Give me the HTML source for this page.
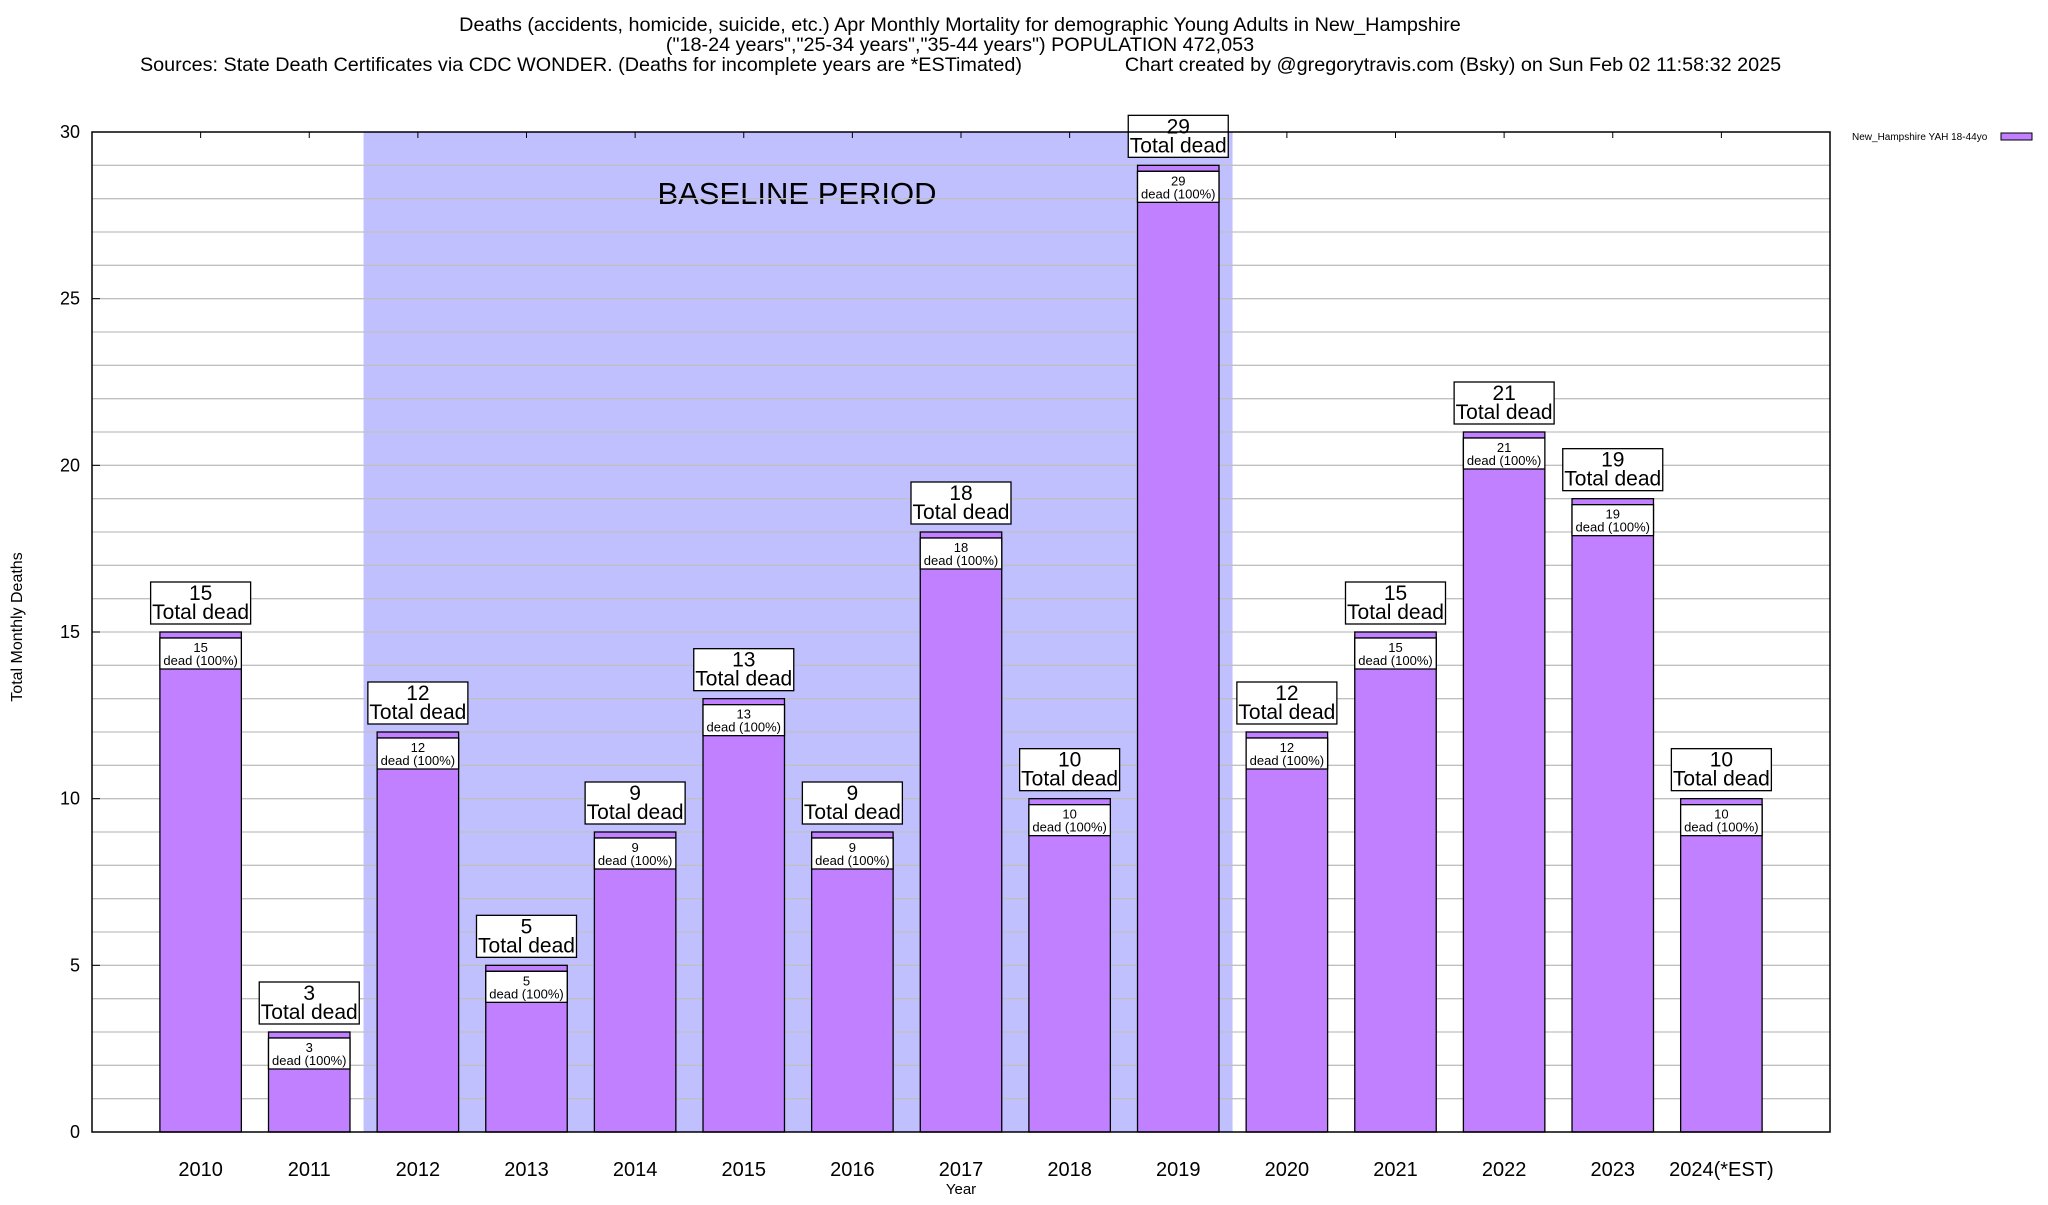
<!DOCTYPE html>
<html><head><meta charset="utf-8"><style>
body{margin:0;background:#fff;font-family:"Liberation Sans",sans-serif}
</style></head><body>
<svg id="chart" width="2048" height="1200" xmlns="http://www.w3.org/2000/svg" font-family="Liberation Sans, sans-serif">
<g font-size="19.8" text-anchor="middle">
<text x="960" y="31">Deaths (accidents, homicide, suicide, etc.) Apr Monthly Mortality for demographic Young Adults in New_Hampshire</text>
<text x="960" y="51">("18-24 years","25-34 years","35-44 years") POPULATION 472,053</text>
<text x="581" y="71">Sources: State Death Certificates via CDC WONDER. (Deaths for incomplete years are *ESTimated)</text>
<text x="1453" y="71">Chart created by @gregorytravis.com (Bsky) on Sun Feb 02 11:58:32 2025</text>
</g>
<g id="plot"></g>
<text x="22" y="627" font-size="16" text-anchor="middle" transform="rotate(-90 22 627)">Total Monthly Deaths</text>
<text x="961" y="1194" font-size="15" text-anchor="middle">Year</text>
<g>
<text x="1852" y="140" font-size="10">New_Hampshire YAH 18-44yo</text>
<rect x="2001" y="133" width="31" height="7" fill="#c080ff" stroke="#000"/>
</g>
</svg>
<script>
const categories=["2010","2011","2012","2013","2014","2015","2016","2017","2018","2019","2020","2021","2022","2023","2024(*EST)"];
const deaths=[15,3,12,5,9,13,9,18,10,29,12,15,21,19,10];
const yTicks=[0,5,10,15,20,25,30];
const baselineStart=2, baselineEnd=9;
const L=92,R=1830,T=132,B=1132,ymax=30;
const slot=(R-L)/16;
const X=i=>L+(i+1)*slot;
const Y=v=>B-(v/ymax)*(B-T);
const NS="http://www.w3.org/2000/svg";
const g=document.getElementById('plot');
function mk(tag,a,txt){const e=document.createElementNS(NS,tag);for(const k in a)e.setAttribute(k,a[k]);if(txt!==undefined)e.textContent=txt;g.appendChild(e);return e;}
let e;
e=mk('rect',{x:X(baselineStart)-slot/2,y:T,width:(baselineEnd-baselineStart+1)*slot,height:B-T,fill:'#c0c0ff'});


e=mk('text',{x:797,y:204,'font-size':31,'text-anchor':'middle'},'BASELINE PERIOD');


for(let v=1;v<ymax;v++){
 e=mk('line',{x1:L,x2:R,y1:Y(v),y2:Y(v),stroke:'#c0c0c0','stroke-width':1.3});
 
 
}
yTicks.forEach(v=>{
 e=mk('text',{x:80,y:Y(v)+6,'font-size':18,'text-anchor':'end'},String(v));
 
 
 mk('line',{x1:L,x2:L+8,y1:Y(v),y2:Y(v),stroke:'#000'});
});
categories.forEach((c,i)=>{
 mk('line',{x1:X(i),x2:X(i),y1:T,y2:T+6,stroke:'#000'});
 e=mk('text',{x:X(i),y:1176,'font-size':20,'text-anchor':'middle'},c);
 
 
});
const bw=slot*0.75;
deaths.forEach((v,i)=>{
 const x=X(i)-bw/2,y=Y(v);
 e=mk('rect',{x:x,y:y,width:bw,height:B-y,fill:'#c080ff',stroke:'#000','stroke-width':1.3});
 
 
 mk('line',{x1:x,x2:x+bw,y1:y+6,y2:y+6,stroke:'#000','stroke-width':1.3});
 e=mk('rect',{x:x,y:y+6,width:bw,height:31,fill:'#fff',stroke:'#000','stroke-width':1.3});
 
 
 mk('text',{x:X(i),y:y+20,'font-size':13,'text-anchor':'middle'},String(v));
 mk('text',{x:X(i),y:y+33,'font-size':13,'text-anchor':'middle'},'dead (100%)');
 e=mk('rect',{x:X(i)-50,y:y-50,width:100,height:42,fill:'#fff',stroke:'#000','stroke-width':1.3});
 
 
 mk('text',{x:X(i),y:y-32,'font-size':21,'text-anchor':'middle'},String(v));
 mk('text',{x:X(i),y:y-13,'font-size':21,'text-anchor':'middle'},'Total dead');
});
e=mk('rect',{x:L,y:T,width:R-L,height:B-T,fill:'none',stroke:'#000','stroke-width':1.5});


</script>
</body></html>
